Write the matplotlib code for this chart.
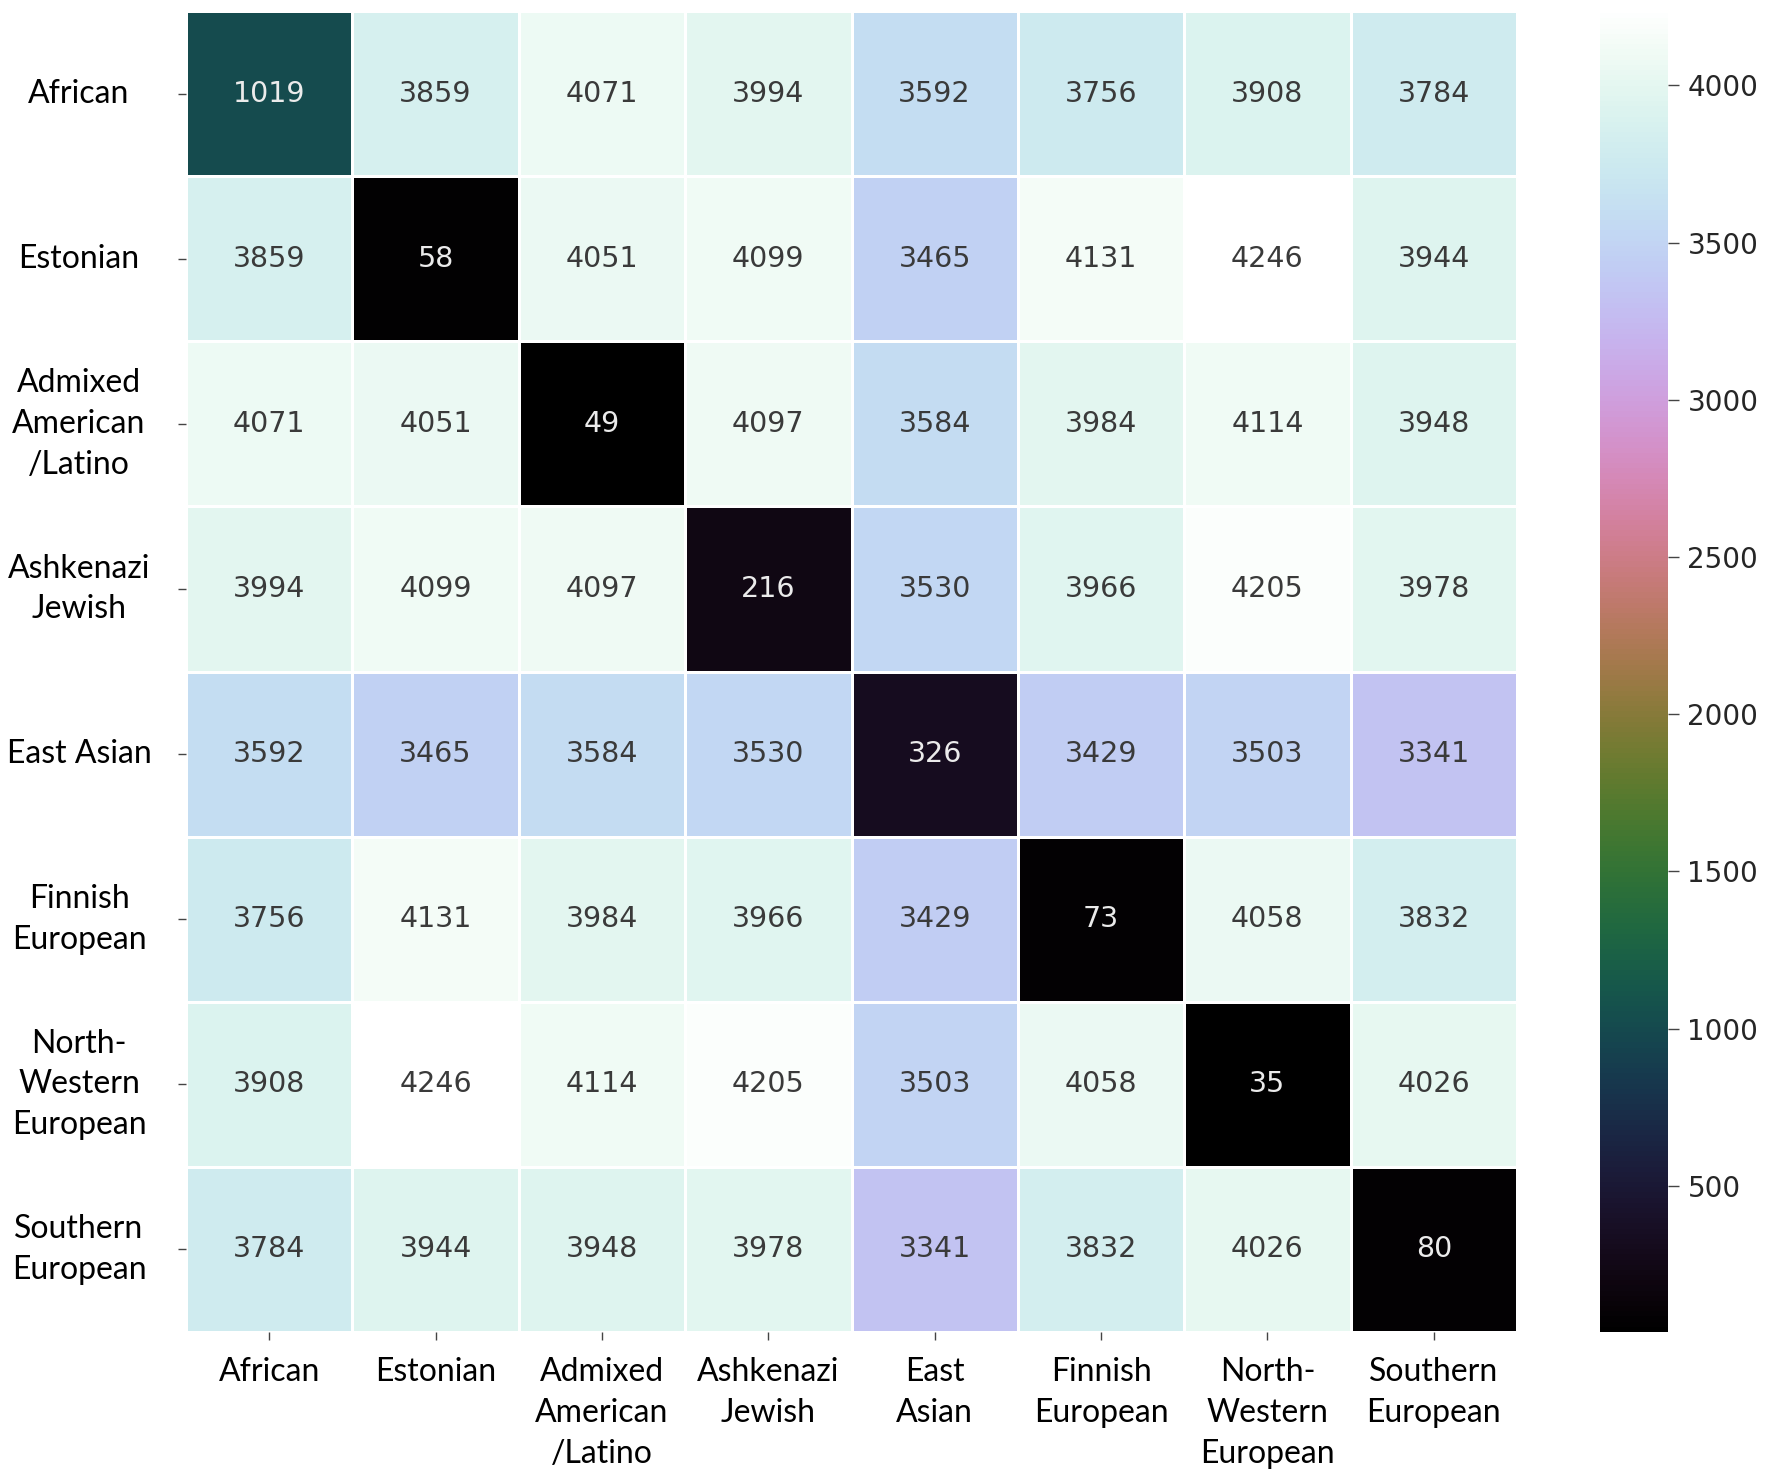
import matplotlib
matplotlib.use("Agg")
import matplotlib.pyplot as plt
import numpy as np

# Labels for rows (y) and columns (x)
row_labels = ["African", "Estonian", "Admixed\nAmerican\n/Latino", "Ashkenazi\nJewish",
              "East Asian", "Finnish\nEuropean", "North-\nWestern\nEuropean", "Southern\nEuropean"]
col_labels = ["African", "Estonian", "Admixed\nAmerican\n/Latino", "Ashkenazi\nJewish",
              "East\nAsian", "Finnish\nEuropean", "North-\nWestern\nEuropean", "Southern\nEuropean"]

# Pairwise values, one list per row
african = [1019, 3859, 4071, 3994, 3592, 3756, 3908, 3784]
estonian = [3859, 58, 4051, 4099, 3465, 4131, 4246, 3944]
admixed = [4071, 4051, 49, 4097, 3584, 3984, 4114, 3948]
ashkenazi = [3994, 4099, 4097, 216, 3530, 3966, 4205, 3978]
east_asian = [3592, 3465, 3584, 3530, 326, 3429, 3503, 3341]
finnish = [3756, 4131, 3984, 3966, 3429, 73, 4058, 3832]
nw_european = [3908, 4246, 4114, 4205, 3503, 4058, 35, 4026]
southern = [3784, 3944, 3948, 3978, 3341, 3832, 4026, 80]

cbar_ticks = [500, 1000, 1500, 2000, 2500, 3000, 3500, 4000]

data = np.array([african, estonian, admixed, ashkenazi,
                 east_asian, finnish, nw_european, southern])
n = data.shape[0]

W, H = 1772, 1482
fig = plt.figure(figsize=(W / 100, H / 100), dpi=100)
ax = fig.add_axes([186 / W, 1 - 1332 / H, (1517 - 186) / W, (1332 - 11) / H])
cax = fig.add_axes([1600 / W, 1 - 1332 / H, 68 / W, (1332 - 8) / H])

mesh = ax.pcolormesh(data, cmap="cubehelix", vmin=data.min(), vmax=data.max(),
                     edgecolors="white", linewidth=1.0)
ax.set_xlim(0, n)
ax.set_ylim(n, 0)
for s in ax.spines.values():
    s.set_visible(False)

for i in range(n):
    for j in range(n):
        v = data[i, j]
        r, g, b, _ = mesh.cmap(mesh.norm(v))
        lum = 0.2126 * r + 0.7152 * g + 0.0722 * b
        color = "#3a3a3a" if lum > 0.408 else "#ebebeb"
        ax.text(j + 0.5, i + 0.5, str(v), ha="center", va="center",
                fontsize=20.5, color=color, family="DejaVu Sans")

ax.set_xticks(np.arange(n) + 0.5)
ax.set_yticks(np.arange(n) + 0.5)
ax.set_xticklabels(col_labels, family="Lato", fontsize=23, linespacing=1.45)
ax.set_yticklabels(row_labels, family="Lato", fontsize=23, linespacing=1.45,
                   ha="center", va="center", multialignment="center")
ax.tick_params(axis="x", length=6, width=1, color="#444444", pad=12)
ax.tick_params(axis="y", length=6, width=1, color="#444444", pad=71)

cb = fig.colorbar(mesh, cax=cax)
cb.outline.set_visible(False)
cb.set_ticks(cbar_ticks)
cax.tick_params(length=8, width=1, color="#444444", pad=6, labelsize=20,
                labelcolor="#262626")

fig.savefig("out.png", dpi=100)
